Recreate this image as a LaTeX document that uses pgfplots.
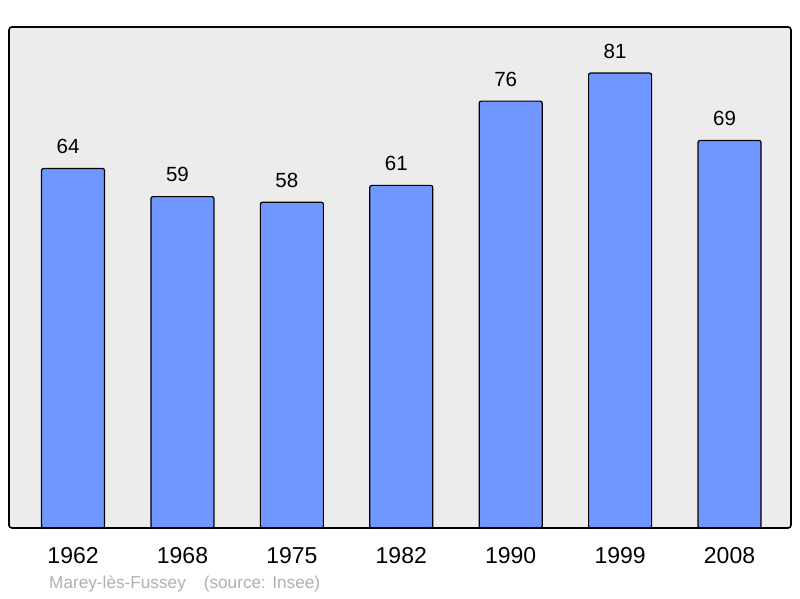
\documentclass[border=0pt]{standalone}
\usepackage{pgfplots}
\pgfplotsset{compat=1.18}
\usepackage{fontspec}
\setmainfont{Liberation Sans}
\definecolor{barblue}{HTML}{7097FF}
\definecolor{bggray}{HTML}{ECECEC}
\definecolor{srcgray}{HTML}{B0B0B0}
\begin{document}
\begin{tikzpicture}
\useasboundingbox (0,0) rectangle (800pt,598pt);
\begin{axis}[
	at={(9pt,70pt)}, anchor=south west,
	scale only axis, width=782pt, height=501pt,
	xmin=-0.5855, xmax=6.562, ymin=0, ymax=89.2,
	axis on top,
	axis background/.style={fill=bggray, rounded corners=3pt},
	axis line style={line width=1.6pt, rounded corners=3pt},
	ytick=\empty,
	xtick={0,1,2,3,4,5,6},
	xticklabels={1962,1968,1975,1982,1990,1999,2008},
	major tick length=0pt,
	xticklabel style={font=\fontsize{23}{23}\selectfont, anchor=center, yshift=-28pt},
	/pgf/number format/assume math mode=true,
	ybar, bar width=63pt,
	nodes near coords,
	nodes near coords style={font=\fontsize{20.5}{20.5}\selectfont, anchor=center, yshift=22pt, xshift=-5pt},
	]
	\addplot[fill=barblue, draw=black, line width=1.2pt, rounded corners=2pt] coordinates {
		(0, 64)
		(1, 59)
		(2, 58)
		(3, 61)
		(4, 76)
		(5, 81)
		(6, 69)
	};
\end{axis}
\node[anchor=west, text=srcgray, font=\fontsize{17.2}{17.2}\selectfont, inner sep=0pt]
	at (49pt,14pt) {Marey-lès-Fussey\hspace{18pt}(source: Insee)};
\end{tikzpicture}
\end{document}
